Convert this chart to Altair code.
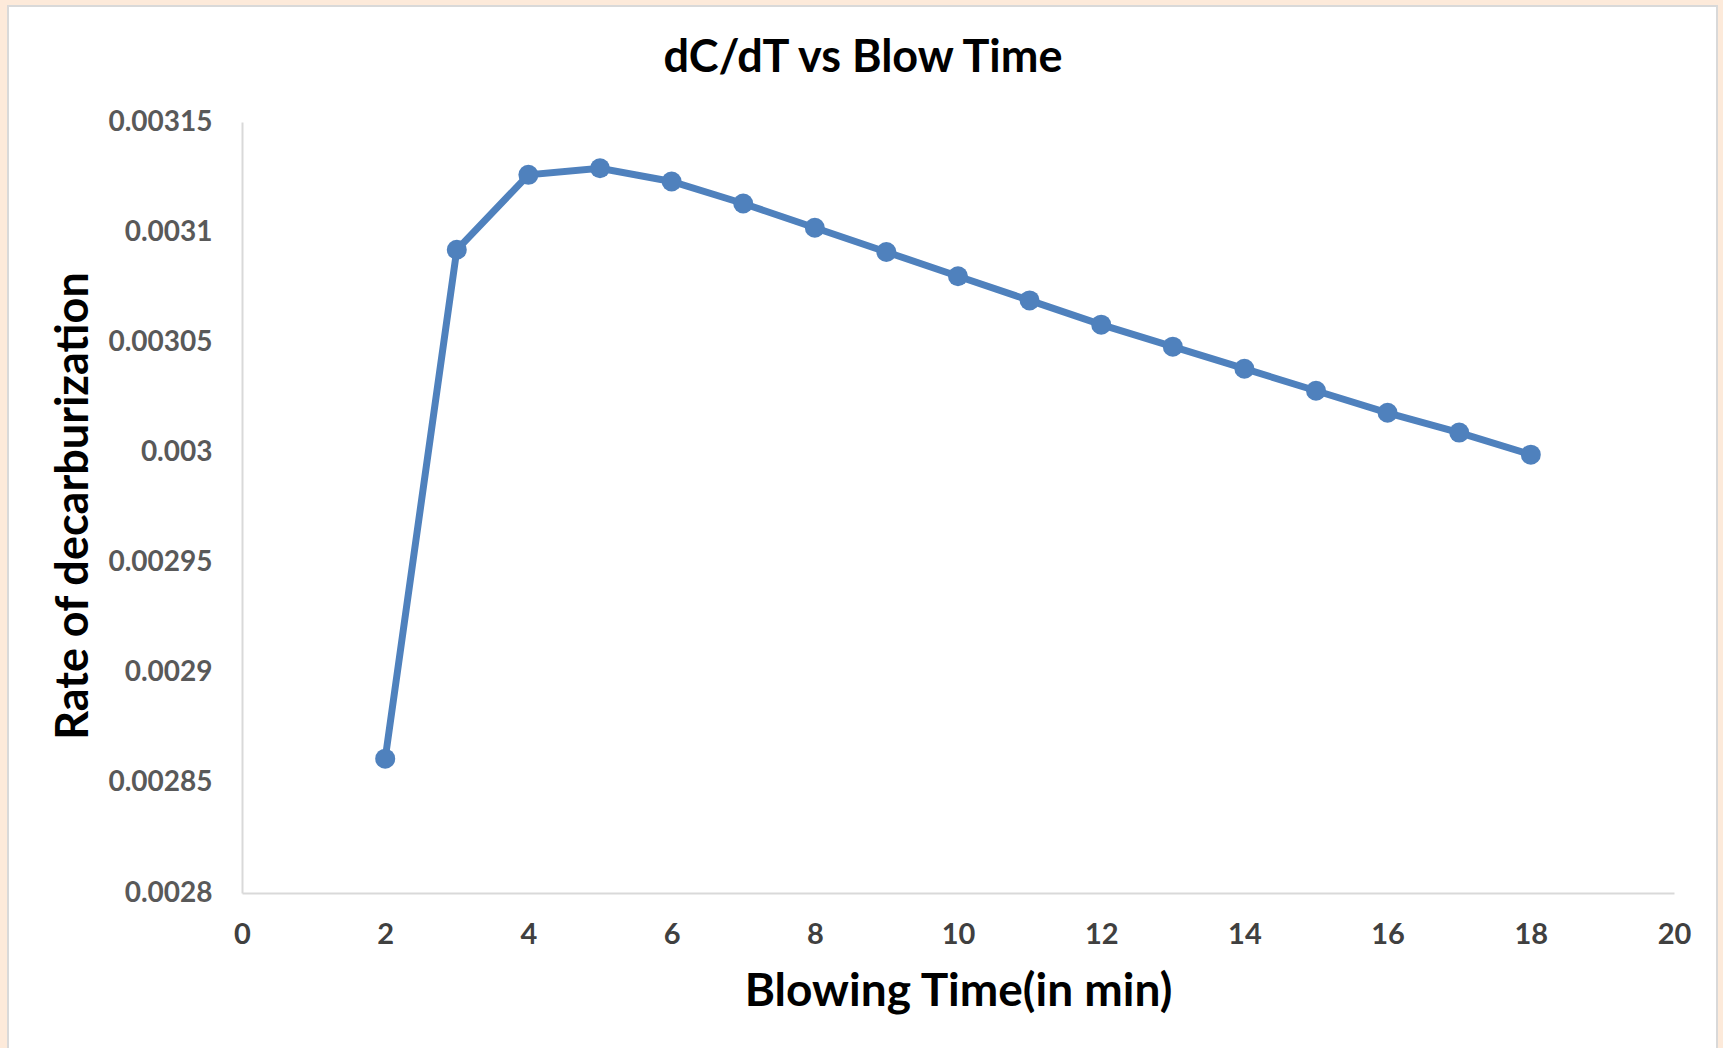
import altair as alt
import pandas as pd

# Data
blow_time = [2, 3, 4, 5, 6, 7, 8, 9, 10, 11, 12, 13, 14, 15, 16, 17, 18]
rate = [0.002861, 0.003092, 0.003126, 0.003129, 0.003123, 0.003113, 0.003102,
        0.003091, 0.003080, 0.003069, 0.003058, 0.003048, 0.003038, 0.003028,
        0.003018, 0.003009, 0.002999]
y_ticks = [0.0028, 0.00285, 0.0029, 0.00295, 0.003, 0.00305, 0.0031, 0.00315]
x_ticks = [0, 2, 4, 6, 8, 10, 12, 14, 16, 18, 20]

df = pd.DataFrame({"t": blow_time, "r": rate})

FONT = "Lato"
BLUE = "#4F81BD"

W, H = 1432, 771
PAD_L, PAD_T, PAD_R, PAD_B = 242, 122, 1723 - 242 - 1432, 1048 - 122 - 771

# white chart box with grey border on peach page
box = alt.Chart(alt.Data(values=[{}])).mark_rect(
    fill="white", stroke="#D9D9D9", strokeWidth=2
).encode(
    x=alt.value(8 - PAD_L), x2=alt.value(1717 - PAD_L),
    y=alt.value(6 - PAD_T), y2=alt.value(1060 - PAD_T),
)

x_enc = alt.X(
    "t:Q",
    scale=alt.Scale(domain=[0, 20], nice=False),
    axis=alt.Axis(
        values=x_ticks, format="d", labelFlush=False,
        title="Blowing Time(in min)", grid=False, ticks=False, zindex=1,
        domainColor="#D9D9D9", domainWidth=2,
        labelFont=FONT, labelFontSize=29, labelFontWeight="bold", labelColor="#404040",
        labelPadding=27,
        titleFont=FONT, titleFontSize=46, titleFontWeight="bold", titleColor="black",
        titleBaseline="alphabetic", titleY=112,
    ),
)
y_enc = alt.Y(
    "r:Q",
    scale=alt.Scale(domain=[0.0028, 0.00315], nice=False, zero=False),
    axis=alt.Axis(
        values=y_ticks, format="~g", labelFlush=False,
        title="Rate of decarburization", grid=False, ticks=False,
        zindex=1, domainColor="#D9D9D9", domainWidth=2,
        labelFont=FONT, labelFontSize=28, labelFontWeight="bold", labelColor="#595959",
        labelPadding=30,
        titleFont=FONT, titleFontSize=45, titleFontWeight="bold", titleColor="black",
        titleBaseline="alphabetic", titleX=87 - PAD_L, titleY=H / 2 - 2,
    ),
)

line = alt.Chart(df).mark_line(color=BLUE, strokeWidth=7).encode(x=x_enc, y=y_enc)
pts = alt.Chart(df).mark_point(
    filled=True, color=BLUE, opacity=1, size=400, shape="circle"
).encode(x="t:Q", y="r:Q")

chart = alt.layer(box, line, pts).properties(
    width=W, height=H,
    title=alt.TitleParams(
        "dC/dT vs Blow Time", font=FONT, fontSize=45, fontWeight="bold", color="black",
        anchor="middle", frame="group", dx=-95, baseline="alphabetic", offset=-112,
    ),
    autosize=alt.AutoSizeParams(type="none"),
    padding={"left": PAD_L, "top": PAD_T, "right": PAD_R, "bottom": PAD_B},
    background="#FDEADA",
).configure_view(stroke=None)

chart.save("out.html", embed_options={"renderer": "svg", "actions": False})
